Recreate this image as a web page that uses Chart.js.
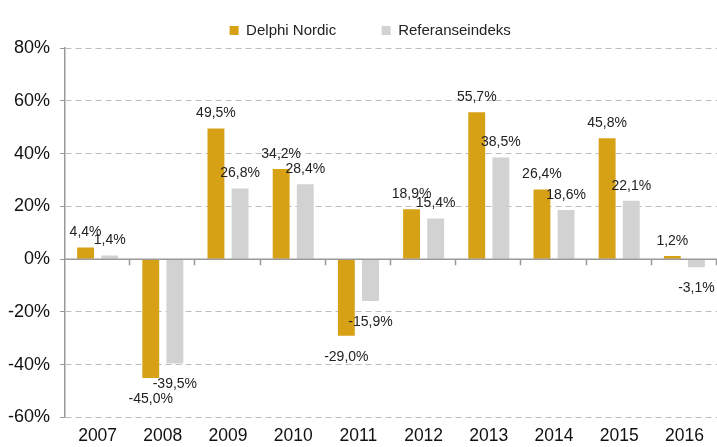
<!DOCTYPE html>
<html>
<head>
<meta charset="utf-8">
<script src="https://cdn.jsdelivr.net/npm/chart.js@4/dist/chart.umd.min.js"></script>
<style>
  html, body { margin: 0; padding: 0; background: #fff; }
  #wrap { width: 717px; height: 447px; }
</style>
</head>
<body>
<div id="wrap"><canvas id="chart"></canvas></div>
<script>
// Data
const years = ['2007', '2008', '2009', '2010', '2011', '2012', '2013', '2014', '2015', '2016'];
const delphiNordic = [4.4, -45.0, 49.5, 34.2, -29.0, 18.9, 55.7, 26.4, 45.8, 1.2];
const referanseindeks = [1.4, -39.5, 26.8, 28.4, -15.9, 15.4, 38.5, 18.6, 22.1, -3.1];
const yTicks = [80, 60, 40, 20, 0, -20, -40, -60];

const FONT = 'Liberation Sans, Arial, sans-serif';
const fmt = v => v.toFixed(1).replace('.', ',') + '%';

// Zero line + category ticks on it
const zeroAxis = {
    id: 'zeroAxis',
    afterDatasetsDraw(chart) {
        const { ctx, scales: { x, y } } = chart;
        const y0 = y.getPixelForValue(0);
        ctx.save();
        ctx.strokeStyle = '#999';
        ctx.lineWidth = 1.5;
        ctx.beginPath();
        ctx.moveTo(x.left, y0);
        ctx.lineTo(x.right, y0);
        const w = (x.right - x.left) / years.length;
        for (let i = 1; i <= years.length; i++) {
            const px = Math.round(x.left + i * w) - 0.5;
            ctx.moveTo(px, y0);
            ctx.lineTo(px, y0 + 6);
        }
        ctx.stroke();
        ctx.restore();
    }
};

// Value labels
const valueLabels = {
    id: 'valueLabels',
    afterDatasetsDraw(chart) {
        const ctx = chart.ctx;
        ctx.save();
        ctx.font = '14px ' + FONT;
        ctx.fillStyle = '#222';
        ctx.textAlign = 'center';
        chart.data.datasets.forEach((ds, di) => {
            chart.getDatasetMeta(di).data.forEach((bar, i) => {
                const v = ds.data[i];
                if (v >= 0) {
                    ctx.textBaseline = 'bottom';
                    ctx.fillText(fmt(v), bar.x, bar.y - 8);
                } else {
                    ctx.textBaseline = 'top';
                    ctx.fillText(fmt(v), bar.x, bar.y + 14);
                }
            });
        });
        ctx.restore();
    }
};

new Chart(document.getElementById('chart'), {
    type: 'bar',
    data: {
        labels: years,
        datasets: [
            { label: 'Delphi Nordic', data: delphiNordic, backgroundColor: '#D6A115' },
            { label: 'Referanseindeks', data: referanseindeks, backgroundColor: '#D2D2D2' }
        ]
    },
    options: {
        responsive: true,
        maintainAspectRatio: false,
        animation: false,
        categoryPercentage: 0.74,
        barPercentage: 0.7,
        layout: { padding: { left: -2, right: 0, top: 15, bottom: 0 } },
        plugins: {
            legend: {
                position: 'top',
                fullSize: false,
                labels: {
                    boxWidth: 9,
                    boxHeight: 9,
                    padding: 8,
                    color: '#222',
                    font: { family: FONT, size: 15 },
                    generateLabels(chart) {
                        const items = Chart.defaults.plugins.legend.labels.generateLabels(chart);
                        items[0].text += '         ';
                        items[1].text += '          ';
                        return items;
                    }
                }
            },
            tooltip: { enabled: false }
        },
        scales: {
            x: {
                grid: { display: false },
                border: { display: false },
                ticks: { color: '#111', padding: 2, font: { family: FONT, size: 17.5, lineHeight: 1 } }
            },
            y: {
                min: -60,
                max: 80,
                afterBuildTicks: s => { s.ticks = yTicks.map(v => ({ value: v })); },
                grid: {
                    color: '#BDBDBD',
                    tickColor: '#999',
                    tickLength: 5,
                    tickBorderDash: [],
                    lineWidth: 1
                },
                border: { display: true, color: '#999', width: 1.5, dash: [6, 4] },
                ticks: {
                    color: '#111',
                    padding: 10,
                    font: { family: FONT, size: 18 },
                    callback: v => v + '%'
                }
            }
        }
    },
    plugins: [zeroAxis, valueLabels]
});
</script>
</body>
</html>
